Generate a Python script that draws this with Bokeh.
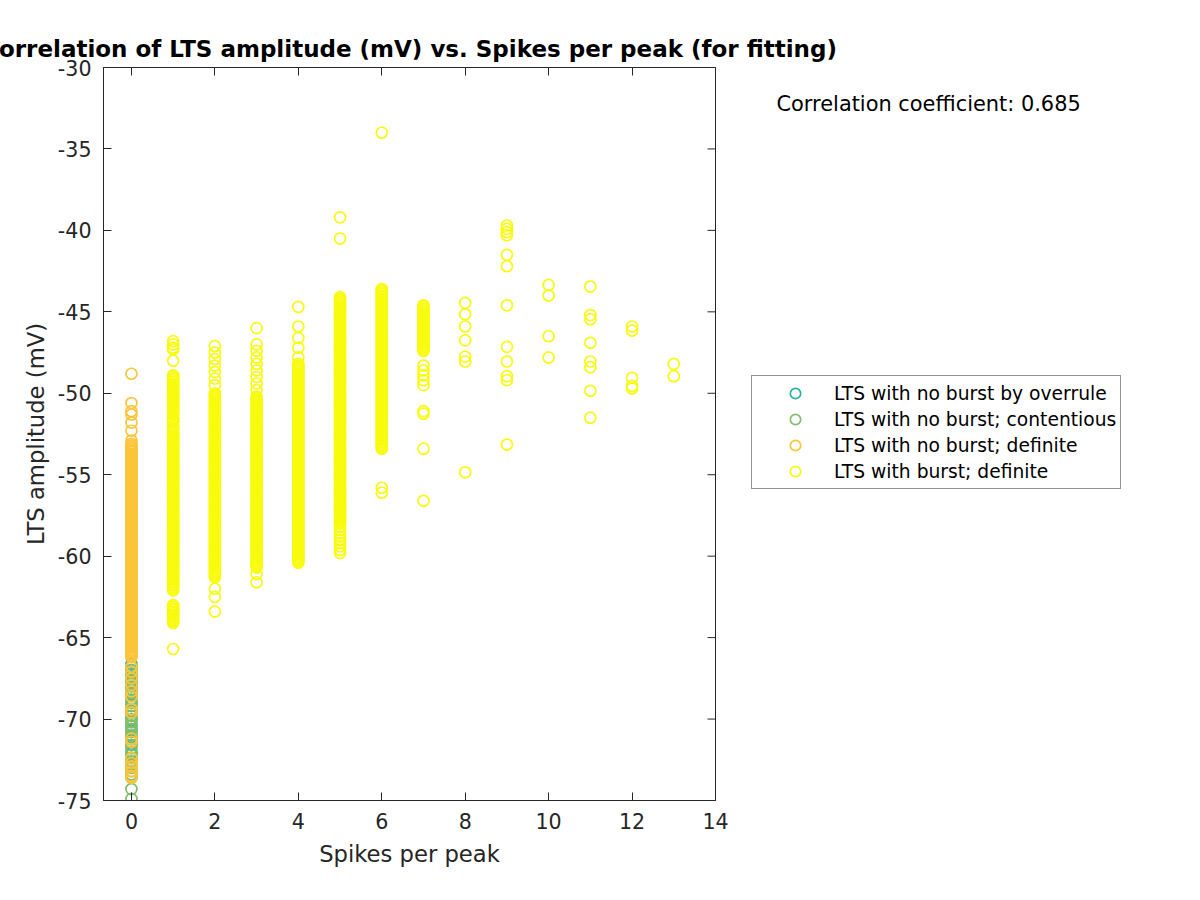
from bokeh.plotting import figure
from bokeh.models import Range1d, FixedTicker, LinearAxis, Legend, LegendItem, Label, Title
from bokeh.embed import file_html
from bokeh.resources import INLINE

TITLE = "Correlation of LTS amplitude (mV) vs. Spikes per peak (for fitting)"
X_LABEL = "Spikes per peak"
Y_LABEL = "LTS amplitude (mV)"
CORR_TEXT = "Correlation coefficient: 0.685"
x_ticks = [0, 2, 4, 6, 8, 10, 12, 14]
y_ticks = [-75, -70, -65, -60, -55, -50, -45, -40, -35, -30]
X_MIN, X_MAX = -0.67, 14
Y_MIN, Y_MAX = -75, -30

group_names = ["LTS with no burst by overrule", "LTS with no burst; contentious",
               "LTS with no burst; definite", "LTS with burst; definite"]
group_colors = ["#2ab3a0", "#82be6a", "#fcc43a", "#f9fb0e"]

# --- LTS with no burst by overrule (all at 0 spikes)
overrule_amp = [-66.6, -67.0, -67.4, -67.8, -68.2, -68.5, -69.0, -69.5, -70.0, -70.4,
                -70.7, -71.1, -71.6, -72.1]

# --- LTS with no burst; contentious (all at 0 spikes)
contentious_amp = [-66.8, -67.0, -67.2, -67.4, -67.6, -67.8, -68.0, -68.2, -68.4, -68.6,
                   -68.8, -69.0, -69.2, -69.4, -69.6, -69.8, -70.0, -70.2, -70.4, -70.6,
                   -70.8, -71.0, -71.2, -71.4, -71.6, -71.8, -72.0, -72.2, -72.4, -72.6,
                   -72.8, -73.0, -73.2, -73.4, -73.6, -74.3, -74.9]

# --- LTS with no burst; definite (all at 0 spikes)
nb_definite_amp = [
    -48.8, -50.6, -51.1, -51.3, -51.8, -52.3, -52.9,
    -53.1, -53.2, -53.3, -53.4, -53.5, -53.6, -53.7, -53.8, -53.9,
    -54.0, -54.1, -54.2, -54.3, -54.4, -54.5, -54.6, -54.7, -54.8, -54.9,
    -55.0, -55.1, -55.2, -55.3, -55.4, -55.5, -55.6, -55.7, -55.8, -55.9,
    -56.0, -56.1, -56.2, -56.3, -56.4, -56.5, -56.6, -56.7, -56.8, -56.9,
    -57.0, -57.1, -57.2, -57.3, -57.4, -57.5, -57.6, -57.7, -57.8, -57.9,
    -58.0, -58.1, -58.2, -58.3, -58.4, -58.5, -58.6, -58.7, -58.8, -58.9,
    -59.0, -59.1, -59.2, -59.3, -59.4, -59.5, -59.6, -59.7, -59.8, -59.9,
    -60.0, -60.1, -60.2, -60.3, -60.4, -60.5, -60.6, -60.7, -60.8, -60.9,
    -61.0, -61.1, -61.2, -61.3, -61.4, -61.5, -61.6, -61.7, -61.8, -61.9,
    -62.0, -62.1, -62.2, -62.3, -62.4, -62.5, -62.6, -62.7, -62.8, -62.9,
    -63.0, -63.1, -63.2, -63.3, -63.4, -63.5, -63.6, -63.7, -63.8, -63.9,
    -64.0, -64.1, -64.2, -64.3, -64.4, -64.5, -64.6, -64.7, -64.8, -64.9,
    -65.0, -65.1, -65.2, -65.3, -65.4, -65.5, -65.6, -65.7, -65.8, -65.9,
    -66.0, -66.1, -66.2,
    -66.8, -67.1, -67.5, -67.9, -68.3, -68.6, -69.4, -69.6, -71.2, -71.4,
    -72.4, -72.7, -72.9, -73.2, -73.5, -73.6,
]

# --- LTS with burst; definite, one list per spikes-per-peak value
burst_amp_1 = [
    -46.8, -47.0, -47.2, -47.3, -48.0,
    -48.9, -49.0, -49.1, -49.2, -49.3, -49.4, -49.5, -49.6, -49.7, -49.8, -49.9,
    -50.0, -50.1, -50.2, -50.3, -50.4, -50.5, -50.6, -50.7, -50.8, -50.9,
    -51.0, -51.1, -51.2, -51.3, -51.5, -51.6, -51.7, -51.8, -52.0,
    -52.1, -52.2, -52.3, -52.4, -52.5, -52.6, -52.7, -52.8, -52.9,
    -53.0, -53.1, -53.2, -53.3, -53.4, -53.5, -53.6, -53.7, -53.8, -53.9,
    -54.0, -54.1, -54.2, -54.3, -54.4, -54.5, -54.6, -54.7, -54.8, -54.9,
    -55.0, -55.1, -55.2, -55.3, -55.4, -55.5, -55.6, -55.7, -55.8, -55.9,
    -56.0, -56.1, -56.2, -56.3, -56.4, -56.5, -56.6, -56.7, -56.8, -56.9,
    -57.0, -57.1, -57.2, -57.3, -57.4, -57.5, -57.6, -57.7, -57.8, -57.9,
    -58.0, -58.1, -58.2, -58.3, -58.4, -58.5, -58.6, -58.7, -58.8, -58.9,
    -59.0, -59.1, -59.2, -59.3, -59.4, -59.5, -59.6, -59.7, -59.8, -59.9,
    -60.0, -60.1, -60.2, -60.3, -60.4, -60.5, -60.6, -60.7, -60.8, -60.9,
    -61.0, -61.1, -61.2, -61.3, -61.4, -61.5, -61.6, -61.7, -61.8, -61.9,
    -62.0, -62.1,
    -63.0, -63.1, -63.2, -63.3, -63.4, -63.5, -63.6, -63.7, -63.8, -63.9, -64.0, -64.1,
    -65.7,
]
burst_amp_2 = [
    -47.1, -47.5, -47.9, -48.3, -48.7, -49.1, -49.5,
    -50.0, -50.1, -50.2, -50.3, -50.4, -50.5, -50.6, -50.7, -50.8, -50.9,
    -51.0, -51.1, -51.2, -51.3, -51.4, -51.5, -51.6, -51.7, -51.8, -51.9,
    -52.0, -52.1, -52.2, -52.3, -52.4, -52.5, -52.6, -52.7, -52.8, -52.9,
    -53.0, -53.1, -53.2, -53.3, -53.4, -53.5, -53.6, -53.7, -53.8, -53.9,
    -54.0, -54.1, -54.2, -54.3, -54.4, -54.5, -54.6, -54.7, -54.8, -54.9,
    -55.0, -55.1, -55.2, -55.3, -55.4, -55.5, -55.6, -55.7, -55.8, -55.9,
    -56.0, -56.1, -56.2, -56.3, -56.4, -56.5, -56.6, -56.7, -56.8, -56.9,
    -57.0, -57.1, -57.2, -57.3, -57.4, -57.5, -57.6, -57.7, -57.8, -57.9,
    -58.0, -58.1, -58.2, -58.3, -58.4, -58.5, -58.6, -58.7, -58.8, -58.9,
    -59.0, -59.1, -59.2, -59.3, -59.4, -59.5, -59.6, -59.7, -59.8, -59.9,
    -60.0, -60.1, -60.2, -60.3, -60.4, -60.5, -60.6, -60.7, -60.8, -60.9,
    -61.0, -61.1, -61.2, -61.3,
    -62.0, -62.5, -63.4,
]
burst_amp_3 = [
    -46.0, -47.0, -47.4, -47.8, -48.2, -48.6, -49.0, -49.4, -49.8,
    -50.2, -50.3, -50.4, -50.5, -50.6, -50.7, -50.8, -50.9,
    -51.0, -51.1, -51.2, -51.3, -51.4, -51.5, -51.6, -51.7, -51.8, -51.9,
    -52.0, -52.1, -52.2, -52.3, -52.4, -52.5, -52.6, -52.7, -52.8, -52.9,
    -53.0, -53.1, -53.2, -53.3, -53.4, -53.5, -53.6, -53.7, -53.8, -53.9,
    -54.0, -54.1, -54.2, -54.3, -54.4, -54.5, -54.6, -54.7, -54.8, -54.9,
    -55.0, -55.1, -55.2, -55.3, -55.4, -55.5, -55.6, -55.7, -55.8, -55.9,
    -56.0, -56.1, -56.2, -56.3, -56.4, -56.5, -56.6, -56.7, -56.8, -56.9,
    -57.0, -57.1, -57.2, -57.3, -57.4, -57.5, -57.6, -57.7, -57.8, -57.9,
    -58.0, -58.1, -58.2, -58.3, -58.4, -58.5, -58.6, -58.7, -58.8, -58.9,
    -59.0, -59.1, -59.2, -59.3, -59.4, -59.5, -59.6, -59.7, -59.8, -59.9,
    -60.0, -60.1, -60.2, -60.3, -60.4, -60.5, -60.6, -60.7,
    -61.1, -61.6,
]
burst_amp_4 = [
    -44.7, -45.9, -46.6, -47.2, -47.8,
    -48.2, -48.3, -48.4, -48.5, -48.6, -48.7, -48.8, -48.9,
    -49.0, -49.1, -49.2, -49.3, -49.4, -49.5, -49.6, -49.7, -49.8, -49.9,
    -50.0, -50.1, -50.2, -50.3, -50.4, -50.5, -50.6, -50.7, -50.8, -50.9,
    -51.0, -51.1, -51.2, -51.3, -51.4, -51.5, -51.6, -51.7, -51.8, -51.9,
    -52.0, -52.1, -52.2, -52.3, -52.4, -52.5, -52.6, -52.7, -52.8, -52.9,
    -53.0, -53.1, -53.2, -53.3, -53.4, -53.5, -53.6, -53.7, -53.8, -53.9,
    -54.0, -54.1, -54.2, -54.3, -54.4, -54.5, -54.6, -54.7, -54.8, -54.9,
    -55.0, -55.1, -55.2, -55.3, -55.4, -55.5, -55.6, -55.7, -55.8, -55.9,
    -56.0, -56.1, -56.2, -56.3, -56.4, -56.5, -56.6, -56.7, -56.8, -56.9,
    -57.0, -57.1, -57.2, -57.3, -57.4, -57.5, -57.6, -57.7, -57.8, -57.9,
    -58.0, -58.1, -58.2, -58.3, -58.4, -58.5, -58.6, -58.7, -58.8, -58.9,
    -59.0, -59.1, -59.2, -59.3, -59.4, -59.5, -59.6, -59.7, -59.8, -59.9,
    -60.0, -60.1, -60.2, -60.3, -60.4,
]
burst_amp_5 = [
    -39.2, -40.5,
    -44.1, -44.2, -44.3, -44.4, -44.5, -44.6, -44.7, -44.8, -44.9,
    -45.0, -45.1, -45.2, -45.3, -45.4, -45.5, -45.6, -45.7, -45.8, -45.9,
    -46.0, -46.1, -46.2, -46.3, -46.4, -46.5, -46.6, -46.7, -46.8, -46.9,
    -47.0, -47.1, -47.2, -47.3, -47.4, -47.5, -47.6, -47.7, -47.8, -47.9,
    -48.0, -48.1, -48.2, -48.3, -48.4, -48.5, -48.6, -48.7, -48.8, -48.9,
    -49.0, -49.1, -49.2, -49.3, -49.4, -49.5, -49.6, -49.7, -49.8, -49.9,
    -50.0, -50.1, -50.2, -50.3, -50.4, -50.5, -50.6, -50.7, -50.8, -50.9,
    -51.0, -51.1, -51.2, -51.3, -51.4, -51.5, -51.6, -51.7, -51.8, -51.9,
    -52.0, -52.1, -52.2, -52.3, -52.4, -52.5, -52.6, -52.7, -52.8, -52.9,
    -53.0, -53.1, -53.2, -53.3, -53.4, -53.5, -53.6, -53.7, -53.8, -53.9,
    -54.0, -54.1, -54.2, -54.3, -54.4, -54.5, -54.6, -54.7, -54.8, -54.9,
    -55.0, -55.1, -55.2, -55.3, -55.4, -55.5, -55.6, -55.7, -55.8, -55.9,
    -56.0, -56.1, -56.2, -56.3, -56.4, -56.5, -56.6, -56.7, -56.8, -56.9,
    -57.0, -57.1, -57.2, -57.3, -57.4, -57.5, -57.6, -57.7, -57.8, -57.9,
    -58.0, -58.2, -58.4, -58.6, -58.8, -59.0, -59.2, -59.4, -59.6, -59.8,
]
burst_amp_6 = [
    -34.0,
    -43.6, -43.7, -43.8, -43.9,
    -44.0, -44.1, -44.2, -44.3, -44.4, -44.5, -44.6, -44.7, -44.8, -44.9,
    -45.0, -45.1, -45.2, -45.3, -45.4, -45.5, -45.6, -45.7, -45.8, -45.9,
    -46.0, -46.1, -46.2, -46.3, -46.4, -46.5, -46.6, -46.7, -46.8, -46.9,
    -47.0, -47.1, -47.2, -47.3, -47.4, -47.5, -47.6, -47.7, -47.8, -47.9,
    -48.0, -48.1, -48.2, -48.3, -48.4, -48.5, -48.6, -48.7, -48.8, -48.9,
    -49.0, -49.1, -49.2, -49.3, -49.4, -49.5, -49.6, -49.7, -49.8, -49.9,
    -50.0, -50.1, -50.2, -50.3, -50.4, -50.5, -50.6, -50.7, -50.8, -50.9,
    -51.0, -51.1, -51.2, -51.3, -51.4, -51.5, -51.6, -51.7, -51.8, -51.9,
    -52.0, -52.1, -52.2, -52.3, -52.4, -52.5, -52.6, -52.7, -52.8, -52.9,
    -53.0, -53.1, -53.2, -53.3, -53.4,
    -55.8, -56.1,
]
burst_amp_7 = [
    -44.6, -44.7, -44.8, -44.9, -45.0, -45.1, -45.2, -45.3, -45.4, -45.5,
    -45.6, -45.7, -45.8, -45.9, -46.0, -46.1, -46.2, -46.3, -46.4, -46.5,
    -46.6, -46.7, -46.8, -46.9, -47.0, -47.1, -47.2, -47.3, -47.4,
    -48.3, -48.6, -48.9, -49.2, -49.5, -51.1, -51.25, -53.4, -56.6,
]
burst_amp_8 = [-44.45, -45.15, -45.9, -46.75, -47.75, -48.05, -54.85]
burst_amp_9 = [-39.7, -39.9, -40.1, -40.3, -41.5, -42.2, -44.6, -47.15, -48.05,
               -48.95, -49.2, -53.15]
burst_amp_10 = [-43.35, -44.0, -46.5, -47.8]
burst_amp_11 = [-43.45, -45.2, -45.45, -46.9, -48.05, -48.4, -49.85, -51.5]
burst_amp_12 = [-45.9, -46.15, -49.05, -49.55, -49.7]
burst_amp_13 = [-48.2, -48.95]

burst_columns = [burst_amp_1, burst_amp_2, burst_amp_3, burst_amp_4, burst_amp_5,
                 burst_amp_6, burst_amp_7, burst_amp_8, burst_amp_9, burst_amp_10,
                 burst_amp_11, burst_amp_12, burst_amp_13]

burst_x, burst_y = [], []
for k, col in enumerate(burst_columns, start=1):
    burst_x += [k] * len(col)
    burst_y += col

groups = [
    ([0] * len(overrule_amp), overrule_amp),
    ([0] * len(contentious_amp), contentious_amp),
    ([0] * len(nb_definite_amp), nb_definite_amp),
    (burst_x, burst_y),
]

AX = "#262626"
FONT = "DejaVu Sans"
FRAME_W, FRAME_H = 612, 733
TICK_LEN = 8

p = figure(frame_width=FRAME_W, frame_height=FRAME_H, output_backend="svg",
           toolbar_location=None,
           x_range=Range1d(X_MIN, X_MAX), y_range=Range1d(Y_MIN, Y_MAX),
           min_border_left=103, min_border_right=469, min_border_top=67, min_border_bottom=84,
           background_fill_color="white", border_fill_color="white")
p.title = None
p.grid.visible = False
p.outline_line_color = AX
p.outline_line_width = 1


def style_axis(ax, ticks, show_labels):
    ax.ticker = FixedTicker(ticks=ticks)
    ax.major_label_overrides = {t: str(t) for t in ticks}
    ax.axis_line_color = AX
    ax.axis_line_width = 1
    ax.major_tick_line_color = AX
    ax.major_tick_line_width = 1
    ax.major_tick_in = TICK_LEN
    ax.major_tick_out = 0
    ax.minor_tick_in = 0
    ax.minor_tick_out = 0
    ax.major_label_text_font = FONT
    if show_labels:
        ax.major_label_text_font_size = "20.6px"
        ax.major_label_text_color = AX
    else:
        ax.major_label_text_font_size = "1px"
        ax.major_label_text_color = None
        ax.major_label_standoff = 0


style_axis(p.xaxis[0], x_ticks, True)
style_axis(p.yaxis[0], y_ticks, True)
p.xaxis[0].major_label_standoff = 12
p.yaxis[0].major_label_standoff = 12
for ax, lab in ((p.xaxis[0], X_LABEL), (p.yaxis[0], Y_LABEL)):
    ax.axis_label = lab
    ax.axis_label_text_font = FONT
    ax.axis_label_text_font_size = "22.7px"
    ax.axis_label_text_font_style = "normal"
    ax.axis_label_text_color = AX
p.xaxis[0].axis_label_standoff = 9
p.yaxis[0].axis_label_standoff = 6

top_ax = LinearAxis()
style_axis(top_ax, x_ticks, False)
p.add_layout(top_ax, "above")

# inward tick marks on the right edge of the box (same ticks as the left axis)
tick_dx = TICK_LEN * (X_MAX - X_MIN) / FRAME_W
p.segment(x0=[X_MAX] * len(y_ticks), y0=y_ticks, x1=[X_MAX - tick_dx] * len(y_ticks),
          y1=y_ticks, line_color=AX, line_width=1)

title = Title(text=TITLE, align="center", text_font=FONT, text_font_size="23px",
              text_font_style="bold", text_color="black", standoff=12)
p.add_layout(title, "above")

corr = Label(x=673, y=-76, x_units="screen", y_units="screen", text=CORR_TEXT,
             text_font=FONT, text_font_size="20.9px", text_color="black",
             text_align="left", text_baseline="middle")
p.add_layout(corr, "above")

items = []
for (xs, ys), name, color in zip(groups, group_names, group_colors):
    r = p.scatter(xs, ys, marker="circle", size=11, fill_color=None,
                  line_color=color, line_width=1.7)
    items.append(LegendItem(label=name, renderers=[r]))

legend = Legend(items=items, location=(36, 311), orientation="vertical",
                label_text_font=FONT, label_text_font_size="18.7px", label_text_color="black",
                glyph_height=26, glyph_width=78, label_height=26, label_standoff=0,
                spacing=0, padding=4, margin=0,
                border_line_color=AX, border_line_width=1,
                background_fill_color="white", background_fill_alpha=1.0)
p.add_layout(legend, "right")

open("out.html", "w").write(file_html(p, INLINE))
